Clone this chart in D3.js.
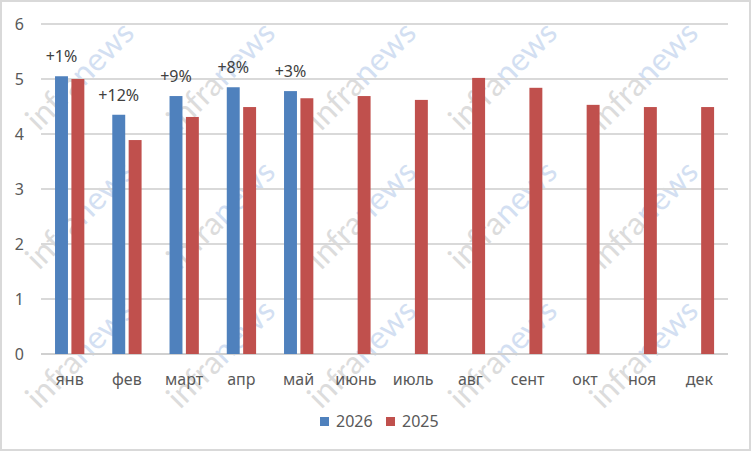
<!DOCTYPE html>
<html>
<head>
<meta charset="utf-8">
<script src="https://cdn.jsdelivr.net/npm/d3@7"></script>
<style>
  html, body { margin: 0; padding: 0; background: #fff; }
  svg { display: block; font-family: "Noto Sans", "Open Sans", sans-serif; }
</style>
</head>
<body>
<svg id="chart" width="752" height="452"></svg>
<script>
const months = ["янв", "фев", "март", "апр", "май", "июнь", "июль", "авг", "сент", "окт", "ноя", "дек"];
const seriesNames = ["2026", "2025"];
const values2026 = [5.05, 4.35, 4.69, 4.85, 4.78, null, null, null, null, null, null, null];
const values2025 = [5.00, 3.89, 4.31, 4.49, 4.65, 4.69, 4.62, 5.02, 4.84, 4.53, 4.49, 4.49];
const changeLabels = ["+1%", "+12%", "+9%", "+8%", "+3%"];
const yTicks = [0, 1, 2, 3, 4, 5, 6];
const colors = { "2026": "#4f81bd", "2025": "#c0504d" };

const svg = d3.select("#chart");

// outer border
svg.append("rect")
  .attr("x", 1).attr("y", 1).attr("width", 749).attr("height", 449)
  .attr("fill", "#fff").attr("stroke", "#d9d9d9").attr("stroke-width", 2);

// watermark
const wm = svg.append("g").attr("class", "watermark");
for (let i = 0; i < 5; i++) {
  for (let j = 0; j < 3; j++) {
    const x0 = 39 + 141 * i, y0 = 132 + 139 * j;
    const t = wm.append("text")
      .attr("transform", `translate(${x0},${y0}) rotate(-45)`)
      .attr("font-size", 32)
      .attr("font-family", "Lato, 'Noto Sans', sans-serif")
      .attr("font-weight", 400);
    t.append("tspan").attr("fill", "#dcdcdc").text("infra");
    t.append("tspan").attr("fill", "#d3dff2").text("news");
  }
}

const margin = { left: 41, right: 728, top: 24, bottom: 354 };

const x = d3.scaleBand().domain(months).range([margin.left, margin.right]).paddingInner(0).paddingOuter(0);
const bw = x.bandwidth();
const x1 = d3.scaleBand().domain(seriesNames).range([bw * 0.245, bw * 0.757]).paddingInner(0.21);
const y = d3.scaleLinear().domain([0, 6]).range([margin.bottom, margin.top]);

// gridlines
svg.append("g")
  .selectAll("line")
  .data(yTicks)
  .join("line")
  .attr("x1", margin.left).attr("x2", margin.right)
  .attr("y1", d => y(d)).attr("y2", d => y(d))
  .attr("stroke", d => d === 0 ? "#d0d0d0" : "#d9d9d9")
  .attr("stroke-width", 2);

// y axis labels
const yAxis = d3.axisLeft(y).tickValues(yTicks).tickSize(0).tickPadding(0).tickFormat(d3.format("d"));
const yg = svg.append("g").attr("transform", "translate(24,0)").call(yAxis);
yg.select(".domain").remove();
yg.selectAll("text").attr("font-size", 16).attr("fill", "#595959").attr("font-family", "'Noto Sans', sans-serif");

// x axis labels
const xAxis = d3.axisBottom(x).tickSize(0).tickPadding(0);
const xg = svg.append("g").attr("transform", `translate(0,${margin.bottom})`).call(xAxis);
xg.select(".domain").remove();
xg.selectAll("text").attr("font-size", 16).attr("fill", "#595959")
  .attr("font-family", "'Noto Sans', sans-serif")
  .attr("dy", null).attr("y", 31);

// bars
const rows = months.map((m, i) => ({ m, v2026: values2026[i], v2025: values2025[i] }));
const bars = svg.append("g");
seriesNames.forEach(s => {
  const key = "v" + s;
  bars.append("g").selectAll("rect")
    .data(rows.filter(r => r[key] != null))
    .join("rect")
    .attr("x", d => x(d.m) + x1(s))
    .attr("width", x1.bandwidth())
    .attr("y", d => y(d[key]))
    .attr("height", d => y(0) - y(d[key]))
    .attr("fill", colors[s]);
});

// change labels above 2026 bars
svg.append("g").selectAll("text")
  .data(changeLabels)
  .join("text")
  .attr("x", (d, i) => x(months[i]) + x1("2026") + x1.bandwidth() / 2)
  .attr("y", (d, i) => y(values2026[i]) - 14)
  .attr("text-anchor", "middle")
  .attr("font-size", 16)
  .attr("fill", "#404040")
  .text(d => d);

// legend
const legend = svg.append("g");
const legendX = [320, 386];
seriesNames.forEach((s, i) => {
  legend.append("rect").attr("x", legendX[i]).attr("y", 417).attr("width", 9).attr("height", 9).attr("fill", colors[s]);
  legend.append("text").attr("x", legendX[i] + 16).attr("y", 427)
    .attr("font-size", 16).attr("fill", "#595959").text(s);
});
</script>
</body>
</html>
